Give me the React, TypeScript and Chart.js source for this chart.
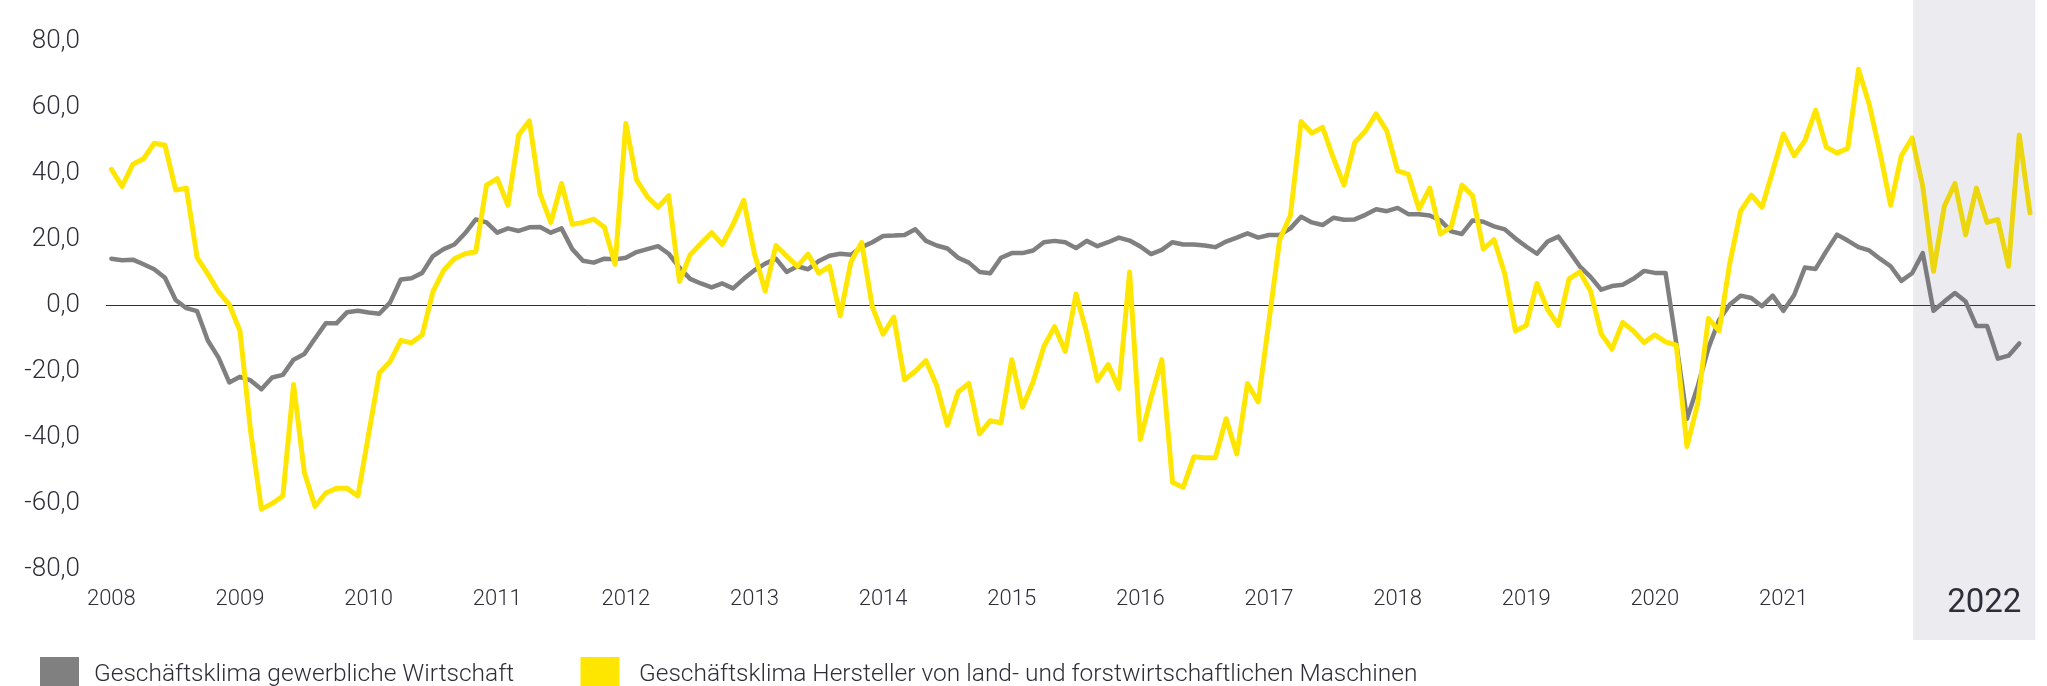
import React, { useEffect, useRef } from 'react';
import { Chart, registerables } from 'chart.js';

Chart.register(...registerables);

// ---- data ----
const years = ['2008', '2009', '2010', '2011', '2012', '2013', '2014', '2015', '2016', '2017', '2018', '2019', '2020', '2021', '2022'];
const highlightYear = '2022';
const yTickValues = [-80, -60, -40, -20, 0, 20, 40, 60, 80];

const seriesNames = [
  'Geschäftsklima gewerbliche Wirtschaft',
  'Geschäftsklima Hersteller von land- und forstwirtschaftlichen Maschinen',
];

// Geschäftsklima gewerbliche Wirtschaft (monthly, Jan 2008 – Nov 2022)
const gewerblicheWirtschaft = [
  14.2, 13.7, 13.9, 12.5, 11.0, 8.4, 1.7, -0.8, -1.7, -10.6, -15.8, -23.3,
  -21.6, -22.7, -25.4, -21.8, -21.0, -16.4, -14.7, -10.0, -5.4, -5.4, -2.0, -1.6,
  -2.1, -2.5, 0.9, 7.9, 8.3, 9.9, 15.0, 17.1, 18.5, 21.9, 26.1, 25.2,
  22.1, 23.4, 22.6, 23.7, 23.8, 22.1, 23.4, 17.1, 13.6, 13.0, 14.2, 14.0,
  14.5, 16.2, 17.1, 18.0, 15.7, 11.5, 8.1, 6.7, 5.5, 6.7, 5.2, 8.1,
  10.7, 12.7, 14.2, 10.2, 11.9, 11.0, 13.5, 15.1, 15.7, 15.4, 17.7, 19.2,
  21.1, 21.2, 21.4, 23.1, 19.6, 18.2, 17.3, 14.5, 13.0, 10.2, 9.8, 14.5,
  15.9, 15.9, 16.7, 19.2, 19.6, 19.2, 17.4, 19.6, 18.0, 19.2, 20.6, 19.7,
  17.9, 15.6, 16.9, 19.2, 18.5, 18.5, 18.2, 17.7, 19.4, 20.6, 21.9, 20.6,
  21.4, 21.4, 23.4, 26.9, 25.2, 24.4, 26.6, 26.0, 26.1, 27.5, 29.2, 28.6,
  29.6, 27.7, 27.7, 27.3, 25.8, 22.5, 21.7, 25.8, 25.4, 24.0, 23.1, 20.3,
  17.9, 15.7, 19.4, 20.9, 16.5, 11.9, 8.7, 4.8, 5.9, 6.3, 8.1, 10.5,
  9.9, 9.9, -11.4, -34.3, -24.5, -12.9, -4.3, 0.3, 3.0, 2.3, -0.2, 3.0,
  -1.6, 3.2, 11.5, 11.1, 16.5, 21.5, 19.7, 17.7, 16.7, 14.2, 11.9, 7.5,
  9.8, 15.9, -1.6, 1.2, 3.8, 1.2, -6.2, -6.2, -16.1, -15.2, -11.5,
];

// Geschäftsklima Hersteller von land- und forstwirtschaftlichen Maschinen (monthly, Jan 2008 – Dec 2022)
const landtechnik = [
  41.3, 36.1, 42.8, 44.5, 49.2, 48.6, 35.0, 35.6, 14.5, 9.6, 4.2, 0.3,
  -7.7, -38.3, -61.7, -60.0, -57.7, -23.9, -50.5, -60.9, -56.8, -55.4, -55.4, -57.7,
  -39.0, -20.4, -17.0, -10.6, -11.3, -8.9, 4.2, 10.7, 14.2, 15.7, 16.3, 36.5,
  38.5, 30.4, 51.7, 56.0, 33.8, 25.2, 37.0, 24.6, 25.2, 26.2, 23.7, 12.5,
  55.2, 38.1, 33.0, 29.8, 33.3, 7.3, 15.4, 18.8, 22.1, 18.5, 24.6, 31.9,
  15.7, 4.4, 18.2, 15.0, 11.9, 15.6, 9.8, 11.9, -3.1, 13.3, 19.1, -0.5,
  -8.7, -3.5, -22.5, -19.9, -16.7, -24.2, -36.3, -26.2, -23.6, -38.9, -34.9, -35.5,
  -16.4, -30.8, -23.1, -12.4, -6.4, -13.9, 3.5, -8.3, -22.7, -17.9, -25.1, 10.2,
  -40.6, -27.9, -16.4, -53.6, -55.1, -45.8, -46.1, -46.1, -34.3, -45.0, -23.6, -29.2,
  -4.7, 20.0, 27.3, 55.8, 52.3, 54.0, 44.8, 36.5, 49.4, 52.9, 58.1, 52.9,
  40.8, 39.8, 29.2, 35.6, 21.7, 23.8, 36.5, 33.3, 17.1, 20.0, 9.6, -7.7,
  -6.0, 6.7, -1.2, -6.0, 8.1, 10.2, 4.4, -8.6, -13.2, -5.1, -7.7, -11.2,
  -8.9, -11.0, -12.0, -42.7, -29.7, -3.9, -7.7, 13.0, 28.6, 33.5, 29.8, 40.8,
  52.0, 45.4, 50.0, 59.2, 48.0, 46.2, 47.7, 71.6, 61.0, 46.5, 30.4, 45.4,
  50.8, 36.1, 10.4, 30.0, 37.0, 21.5, 35.6, 25.2, 26.1, 11.9, 51.7, 28.1,
];

const monthLabels = years.flatMap((y) =>
  ['01', '02', '03', '04', '05', '06', '07', '08', '09', '10', '11', '12'].map((m) => `${y}-${m}`)
);

// ---- styles ----
const GRAY = '#808080';
const YELLOW = '#FFE600';
const TEXT = '#2E2E38';
const FONT = 'Roboto';
const WEIGHT = 300;

const fmt = (v: number) => v.toFixed(1).replace('.', ',');

const decorPlugin = {
  id: 'decor',
  afterDatasetsDraw(chart: any) {
    const { ctx, chartArea, scales } = chart;
    const xs = scales.x;
    const startIdx = monthLabels.indexOf(`${highlightYear}-01`);
    const x0 = xs.getPixelForValue(startIdx) + 1;
    const x1 = chartArea.right;
    ctx.save();
    ctx.fillStyle = 'rgba(100,100,130,0.12)';
    ctx.fillRect(x0, 0, x1 - x0, chartArea.bottom + 70.5);
    ctx.fillStyle = TEXT;
    ctx.font = `400 33px ${FONT}`;
    ctx.textAlign = 'right';
    ctx.textBaseline = 'alphabetic';
    ctx.fillText(highlightYear, x1 - 14, chartArea.bottom + 42);
    ctx.restore();
  },
  afterDraw(chart: any) {
    const { ctx } = chart;
    const items = [
      { label: seriesNames[0], color: GRAY, bx: 40, tx: 94 },
      { label: seriesNames[1], color: YELLOW, bx: 580.5, tx: 639 },
    ];
    ctx.save();
    ctx.font = `${WEIGHT} 24.5px ${FONT}`;
    ctx.textAlign = 'left';
    ctx.textBaseline = 'alphabetic';
    items.forEach((it) => {
      ctx.fillStyle = it.color;
      ctx.fillRect(it.bx, 657, 39, 39);
      ctx.fillStyle = TEXT;
      ctx.fillText(it.label, it.tx, 681);
    });
    ctx.restore();
  },
};

export default function App() {
  const canvasRef = useRef<HTMLCanvasElement | null>(null);

  useEffect(() => {
    if (!canvasRef.current) return;
    const chart = new Chart(canvasRef.current, {
      type: 'line',
      data: {
        labels: monthLabels,
        datasets: [
          {
            label: seriesNames[1],
            data: landtechnik,
            borderColor: YELLOW,
            backgroundColor: YELLOW,
            borderWidth: 5,
            pointRadius: 0,
            tension: 0,
            borderJoinStyle: 'round',
            borderCapStyle: 'round',
            order: 0,
          },
          {
            label: seriesNames[0],
            data: gewerblicheWirtschaft,
            borderColor: GRAY,
            backgroundColor: GRAY,
            borderWidth: 4.5,
            pointRadius: 0,
            tension: 0,
            borderJoinStyle: 'round',
            borderCapStyle: 'round',
            order: 1,
          },
        ],
      },
      options: {
        animation: false,
        responsive: false,
        maintainAspectRatio: false,
        devicePixelRatio: 1,
        layout: { padding: { top: 22, right: 10, left: 0, bottom: 0 } },
        plugins: {
          legend: { display: false },
          tooltip: { enabled: false },
        },
        scales: {
          x: {
            type: 'category',
            offset: true,
            grid: { display: false, drawTicks: false },
            border: { display: false },
            ticks: {
              autoSkip: false,
              maxRotation: 0,
              minRotation: 0,
              padding: 17,
              color: TEXT,
              font: { family: FONT, size: 22, weight: WEIGHT },
              callback: (_v: any, idx: number) => {
                const lab = monthLabels[idx];
                if (!lab || !lab.endsWith('-01')) return '';
                const y = lab.slice(0, 4);
                return y === highlightYear ? '' : y;
              },
            },
            afterFit: (scale: any) => {
              scale.height = 116.5;
            },
          },
          y: {
            min: yTickValues[0],
            max: yTickValues[yTickValues.length - 1],
            afterBuildTicks: (scale: any) => {
              scale.ticks = yTickValues.map((v) => ({ value: v }));
            },
            grid: {
              drawTicks: false,
              color: (c: any) => (c.tick && c.tick.value === 0 ? TEXT : 'rgba(0,0,0,0)'),
              lineWidth: 1,
            },
            border: { display: false },
            ticks: {
              padding: 26,
              color: TEXT,
              font: { family: FONT, size: 26, weight: WEIGHT },
              callback: (v: any) => fmt(Number(v)),
            },
            afterFit: (scale: any) => {
              scale.width = 106;
            },
          },
        },
      },
      plugins: [decorPlugin],
    } as any);
    return () => chart.destroy();
  }, []);

  return (
    <div style={{ position: 'fixed', left: 0, top: 0, width: 2047, height: 686, background: '#ffffff' }}>
      <canvas ref={canvasRef} width={2047} height={686} style={{ display: 'block' }} />
    </div>
  );
}
